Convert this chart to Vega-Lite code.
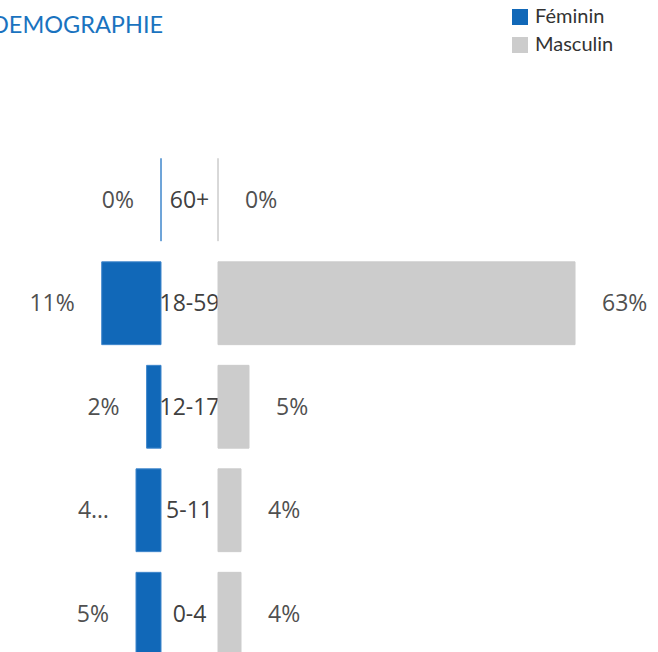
{
  "$schema": "https://vega.github.io/schema/vega-lite/v6.json",
  "autosize": {"type": "pad"},
  "padding": {"top": 7, "left": -9, "right": 0, "bottom": 0},
  "background": "white",
  "spacing": 0,
  "bounds": "flush",
  "title": {"text": "DEMOGRAPHIE", "anchor": "start", "frame": "group", "orient": "top", "offset": -49, "baseline": "alphabetic", "font": "Lato", "fontSize": 23.5, "fontWeight": "normal", "color": "#1A73BF", "dx": -9},
  "config": {"view": {"stroke": null}, "concat": {"spacing": 0}},
  "data": {"values": [
    {"age": "60+", "sexe": "Féminin", "value": 0, "label": "0%"},
    {"age": "18-59", "sexe": "Féminin", "value": 10.46, "label": "11%"},
    {"age": "12-17", "sexe": "Féminin", "value": 2.54, "label": "2%"},
    {"age": "5-11", "sexe": "Féminin", "value": 4.41, "label": "4…"},
    {"age": "0-4", "sexe": "Féminin", "value": 4.41, "label": "5%"},
    {"age": "60+", "sexe": "Masculin", "value": 0, "label": "0%"},
    {"age": "18-59", "sexe": "Masculin", "value": 63, "label": "63%"},
    {"age": "12-17", "sexe": "Masculin", "value": 5.47, "label": "5%"},
    {"age": "5-11", "sexe": "Masculin", "value": 4.06, "label": "4%"},
    {"age": "0-4", "sexe": "Masculin", "value": 4.06, "label": "4%"}
  ]},
  "resolve": {"scale": {"color": "shared", "stroke": "shared"}},
  "hconcat": [
    {
      "width": 161,
      "height": 517.5,
      "transform": [{"filter": "datum.sexe === 'Féminin'"}],
      "encoding": {
        "y": {"field": "age", "type": "nominal", "sort": ["60+", "18-59", "12-17", "5-11", "0-4"], "axis": null, "scale": {"paddingInner": 0.2, "paddingOuter": 0.1}},
        "x": {"field": "value", "type": "quantitative", "scale": {"domain": [0, 28.41], "reverse": true, "nice": false}, "axis": null}
      },
      "layer": [
        {
          "mark": {"type": "bar", "strokeWidth": 1},
          "encoding": {
            "color": {"field": "sexe", "type": "nominal", "scale": {"domain": ["Féminin", "Masculin"], "range": ["#1168B8", "#CCCCCC"]},
              "legend": {"title": null, "orient": "none", "legendX": 510, "legendY": -141, "symbolType": "square", "symbolSize": 256, "symbolStrokeWidth": 0, "labelFont": "Lato", "labelFontSize": 20, "labelColor": "#333333", "labelOffset": 5, "rowPadding": 8}},
            "stroke": {"field": "sexe", "type": "nominal", "scale": {"domain": ["Féminin", "Masculin"], "range": ["#3F86CC", "#CCCCCC"]}, "legend": null}
          }
        },
        {
          "mark": {"type": "text", "align": "right", "baseline": "middle", "dx": -27, "dy": 1, "font": "Open Sans", "fontSize": 23, "color": "#505050"},
          "encoding": {"text": {"field": "label", "type": "nominal"}}
        }
      ]
    },
    {
      "width": 57,
      "height": 517.5,
      "transform": [{"filter": "datum.sexe === 'Féminin'"}],
      "mark": {"type": "text", "align": "center", "baseline": "middle", "dy": 1, "font": "Open Sans", "fontSize": 23, "color": "#404040"},
      "encoding": {
        "y": {"field": "age", "type": "nominal", "sort": ["60+", "18-59", "12-17", "5-11", "0-4"], "axis": null, "scale": {"paddingInner": 0.2, "paddingOuter": 0.1}},
        "text": {"field": "age", "type": "nominal"}
      }
    },
    {
      "width": 440,
      "height": 517.5,
      "transform": [{"filter": "datum.sexe === 'Masculin'"}],
      "encoding": {
        "y": {"field": "age", "type": "nominal", "sort": ["60+", "18-59", "12-17", "5-11", "0-4"], "axis": null, "scale": {"paddingInner": 0.2, "paddingOuter": 0.1}},
        "x": {"field": "value", "type": "quantitative", "scale": {"domain": [0, 77.64], "nice": false}, "axis": null}
      },
      "layer": [
        {
          "mark": {"type": "bar", "strokeWidth": 1},
          "encoding": {
            "color": {"field": "sexe", "type": "nominal"},
            "stroke": {"field": "sexe", "type": "nominal", "legend": null}
          }
        },
        {
          "mark": {"type": "text", "align": "left", "baseline": "middle", "dx": 27, "dy": 1, "font": "Open Sans", "fontSize": 23, "color": "#505050"},
          "encoding": {"text": {"field": "label", "type": "nominal"}}
        }
      ]
    }
  ]
}
